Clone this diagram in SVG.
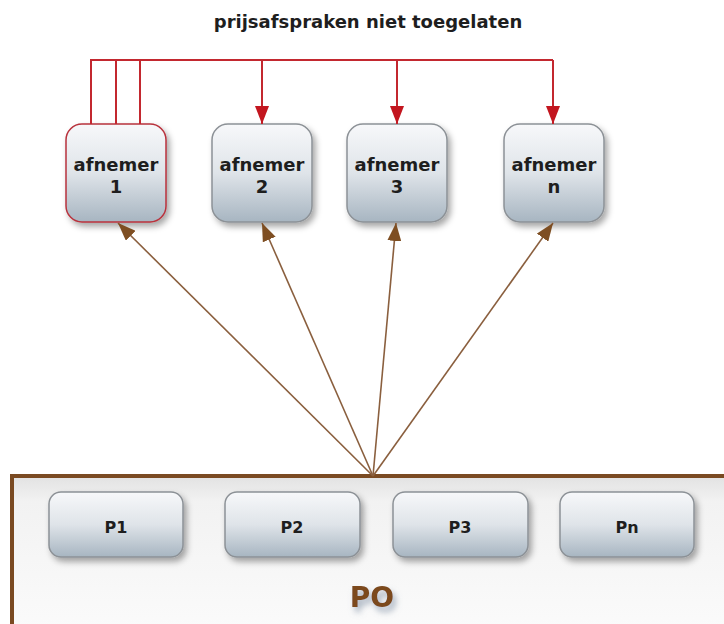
<svg xmlns="http://www.w3.org/2000/svg" width="724" height="624" viewBox="0 0 724 624">
<defs>
<style>
.t{font-family:"DejaVu Sans",Verdana,sans-serif;font-weight:bold;fill:#1e1e1e;text-anchor:middle}
.box{fill:url(#g);stroke:#8c9196;stroke-width:1.5;filter:url(#sh)}
.red{stroke:#c3282f;stroke-width:2;fill:none}
.br{stroke:#8a5f3e;stroke-width:1.6;fill:none}
</style>
<linearGradient id="g" x1="0" y1="0" x2="0" y2="1">
<stop offset="0" stop-color="#f7f8fa"/>
<stop offset="0.5" stop-color="#dfe4e9"/>
<stop offset="1" stop-color="#a7b5c1"/>
</linearGradient>
<linearGradient id="po" x1="0" y1="0" x2="0" y2="1">
<stop offset="0" stop-color="#e2e2e2"/>
<stop offset="0.15" stop-color="#f2f2f2"/>
<stop offset="1" stop-color="#fcfcfc"/>
</linearGradient>
<filter id="sh" x="-20%" y="-20%" width="150%" height="150%">
<feDropShadow dx="3" dy="4" stdDeviation="3" flood-color="#000" flood-opacity="0.35"/>
</filter>
<filter id="tsh" x="-30%" y="-30%" width="160%" height="180%">
<feDropShadow dx="3" dy="5" stdDeviation="3" flood-color="#6d7f95" flood-opacity="0.6"/>
</filter>
<marker id="ar" markerUnits="userSpaceOnUse" markerWidth="18" markerHeight="14" viewBox="0 0 18 14" refX="18" refY="7" orient="auto">
<path d="M0,0 L18,7 L0,14 Z" fill="#c3161f"/>
</marker>
<marker id="ab" markerUnits="userSpaceOnUse" markerWidth="18" markerHeight="14" viewBox="0 0 18 14" refX="18" refY="7" orient="auto">
<path d="M0,0 L18,7 L0,14 Z" fill="#7e4e22"/>
</marker>
</defs>
<rect width="724" height="624" fill="#ffffff"/>
<text class="t" x="368" y="28" font-size="18">prijsafspraken niet toegelaten</text>

<g id="PO">
<rect x="12" y="476" width="730" height="170" fill="url(#po)" stroke="#7a4a22" stroke-width="4"/>
<text x="372" y="607" font-family="DejaVu Sans,Verdana,sans-serif" font-weight="bold" font-size="28" fill="#7b4a1f" text-anchor="middle" filter="url(#tsh)">PO</text>
</g>
<g id="P1"><rect class="box" x="49" y="492" width="134" height="65" rx="12"/><text class="t" x="116" y="533" font-size="16">P1</text></g>
<g id="P2"><rect class="box" x="225" y="492" width="135" height="65" rx="12"/><text class="t" x="292" y="533" font-size="16">P2</text></g>
<g id="P3"><rect class="box" x="393" y="492" width="135" height="65" rx="12"/><text class="t" x="460" y="533" font-size="16">P3</text></g>
<g id="Pn"><rect class="box" x="560" y="492" width="134" height="65" rx="12"/><text class="t" x="627" y="533" font-size="16">Pn</text></g>

<g id="afnemer1"><rect class="box" x="66" y="124" width="100" height="98" rx="16" style="stroke:#b8323c"/><text class="t" x="116" y="171" font-size="18">afnemer</text><text class="t" x="116" y="193" font-size="18">1</text></g>
<g id="afnemer2"><rect class="box" x="212" y="124" width="100" height="98" rx="16"/><text class="t" x="262" y="171" font-size="18">afnemer</text><text class="t" x="262" y="193" font-size="18">2</text></g>
<g id="afnemer3"><rect class="box" x="347" y="124" width="100" height="98" rx="16"/><text class="t" x="397" y="171" font-size="18">afnemer</text><text class="t" x="397" y="193" font-size="18">3</text></g>
<g id="afnemern"><rect class="box" x="504" y="124" width="100" height="98" rx="16"/><text class="t" x="554" y="171" font-size="18">afnemer</text><text class="t" x="554" y="193" font-size="18">n</text></g>

<g id="connectors">
<path class="red" d="M91,124 V60 H553 M116,124 V60 M140,124 V60"/>
<line class="red" x1="262" y1="60" x2="262" y2="124" marker-end="url(#ar)"/>
<line class="red" x1="397" y1="60" x2="397" y2="124" marker-end="url(#ar)"/>
<line class="red" x1="553" y1="60" x2="553" y2="124" marker-end="url(#ar)"/>
<line class="br" x1="373" y1="476" x2="118" y2="223" marker-end="url(#ab)"/>
<line class="br" x1="373" y1="476" x2="262" y2="223" marker-end="url(#ab)"/>
<line class="br" x1="373" y1="476" x2="396" y2="223" marker-end="url(#ab)"/>
<line class="br" x1="373" y1="476" x2="553" y2="223" marker-end="url(#ab)"/>
</g>
</svg>
